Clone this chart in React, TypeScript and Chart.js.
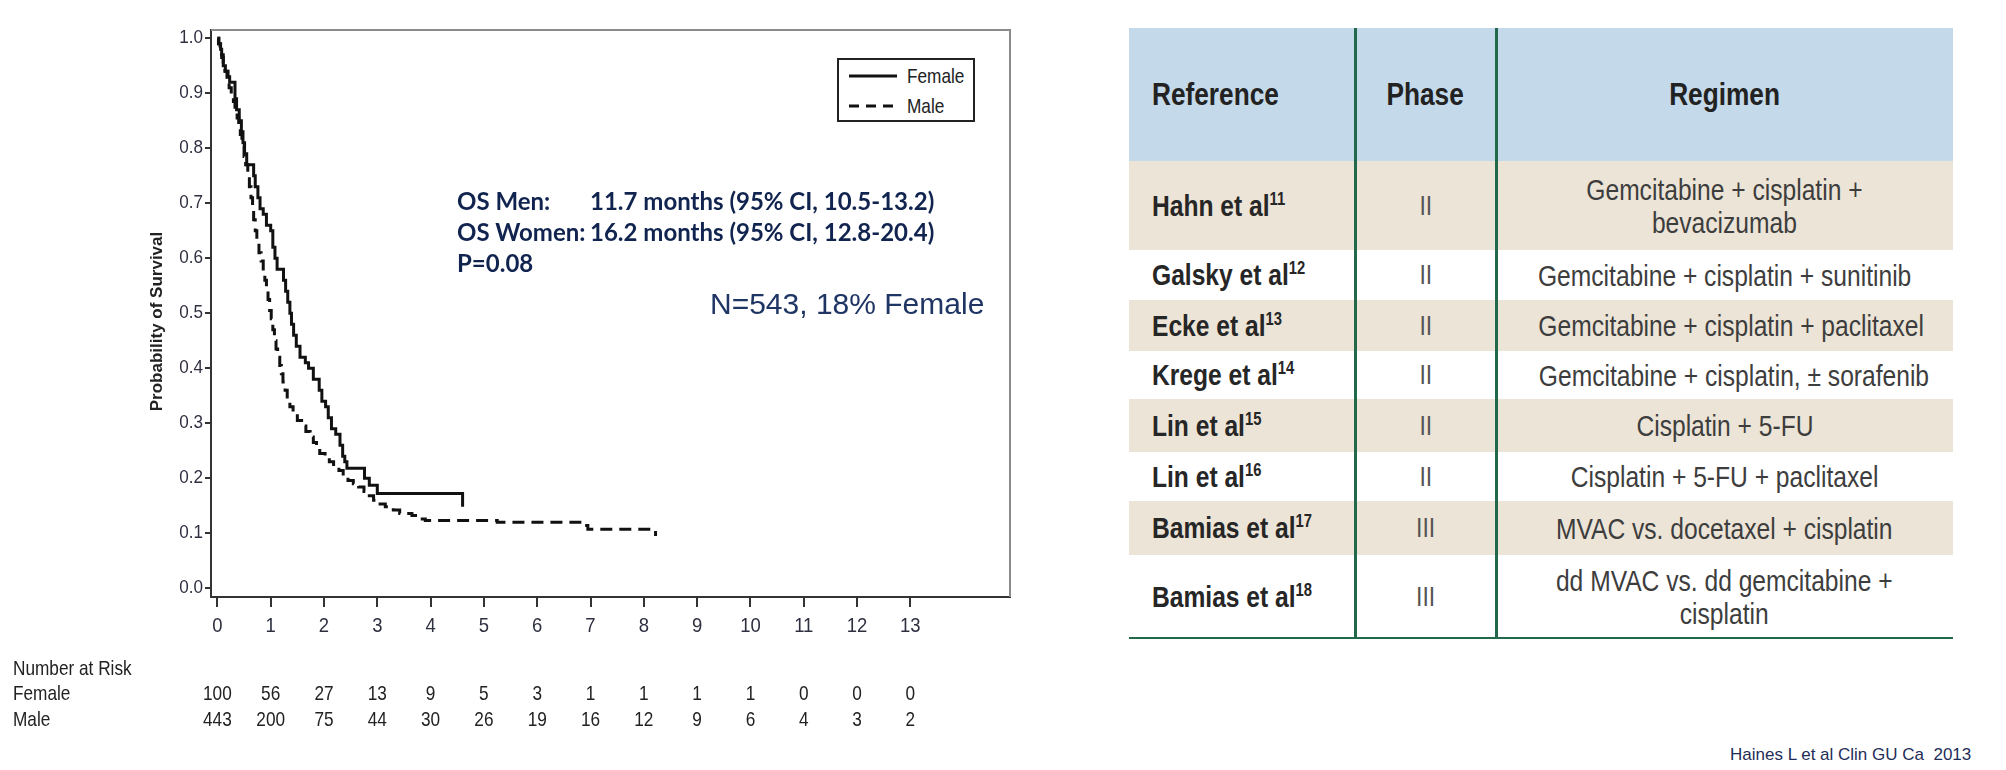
import React, { useEffect, useRef } from 'react';
import { Chart, registerables } from 'chart.js';

Chart.register(...registerables);

const SANS = '"Liberation Sans", Arial, sans-serif';
const CALIBRI = 'Lato, "Open Sans", sans-serif';
const SQUEEZE = 0.82;

// ---- Kaplan-Meier data (time in years, survival probability) ----
const femaleTimes = [0, 0.03, 0.06, 0.08, 0.11, 0.15, 0.2, 0.23, 0.33, 0.36, 0.41, 0.45, 0.48, 0.51, 0.55, 0.68, 0.71, 0.76, 0.8, 0.86, 0.92, 1.0, 1.04, 1.08, 1.12, 1.24, 1.28, 1.32, 1.36, 1.39, 1.43, 1.48, 1.55, 1.65, 1.71, 1.8, 1.91, 1.96, 2.03, 2.08, 2.14, 2.22, 2.3, 2.35, 2.39, 2.43, 2.76, 2.85, 3.0, 4.6];
const femaleSurvival = [1.0, 0.99, 0.98, 0.97, 0.95, 0.94, 0.93, 0.92, 0.89, 0.87, 0.85, 0.83, 0.81, 0.79, 0.77, 0.75, 0.73, 0.71, 0.69, 0.68, 0.66, 0.65, 0.62, 0.6, 0.58, 0.56, 0.54, 0.52, 0.5, 0.48, 0.46, 0.44, 0.42, 0.41, 0.4, 0.38, 0.36, 0.34, 0.33, 0.31, 0.29, 0.28, 0.26, 0.24, 0.23, 0.218, 0.2, 0.187, 0.172, 0.148];

const maleTimes = [0, 0.02, 0.05, 0.08, 0.11, 0.14, 0.18, 0.22, 0.26, 0.3, 0.33, 0.37, 0.4, 0.43, 0.46, 0.5, 0.53, 0.57, 0.6, 0.63, 0.66, 0.68, 0.71, 0.74, 0.78, 0.82, 0.86, 0.89, 0.92, 0.95, 0.98, 1.01, 1.04, 1.07, 1.1, 1.13, 1.17, 1.2, 1.23, 1.27, 1.31, 1.36, 1.42, 1.5, 1.58, 1.66, 1.74, 1.8, 1.86, 1.92, 2.02, 2.1, 2.18, 2.28, 2.36, 2.45, 2.55, 2.65, 2.75, 2.85, 2.93, 3.02, 3.15, 3.3, 3.42, 3.65, 3.8, 3.9, 5.25, 6.8, 6.95, 8.22];
const maleSurvival = [1, 0.99, 0.98, 0.965, 0.95, 0.94, 0.925, 0.91, 0.895, 0.885, 0.87, 0.855, 0.84, 0.825, 0.805, 0.785, 0.77, 0.75, 0.73, 0.71, 0.69, 0.67, 0.65, 0.63, 0.61, 0.595, 0.575, 0.56, 0.54, 0.525, 0.505, 0.49, 0.47, 0.45, 0.435, 0.42, 0.405, 0.39, 0.375, 0.36, 0.345, 0.33, 0.318, 0.305, 0.295, 0.285, 0.275, 0.265, 0.255, 0.245, 0.238, 0.23, 0.222, 0.214, 0.205, 0.196, 0.19, 0.184, 0.176, 0.168, 0.16, 0.153, 0.148, 0.142, 0.136, 0.132, 0.126, 0.123, 0.12, 0.114, 0.107, 0.095];

const xTickValues = [0, 1, 2, 3, 4, 5, 6, 7, 8, 9, 10, 11, 12, 13];
const yTickValues = [0, 0.1, 0.2, 0.3, 0.4, 0.5, 0.6, 0.7, 0.8, 0.9, 1.0];

const riskLabels = ['Number at Risk', 'Female', 'Male'];
const riskFemale = [100, 56, 27, 13, 9, 5, 3, 1, 1, 1, 1, 0, 0, 0];
const riskMale = [443, 200, 75, 44, 30, 26, 19, 16, 12, 9, 6, 4, 3, 2];

const seriesNames = ['Female', 'Male'];
const yAxisTitle = 'Probability of Survival';

const statLabels = ['OS Men:', 'OS Women:', 'P=0.08'];
const statValues = ['11.7 months (95% CI, 10.5-13.2)', '16.2 months (95% CI, 12.8-20.4)', ''];
const sampleNote = 'N=543, 18% Female';
const sourceNote = 'Haines L et al Clin GU Ca  2013';

// ---- Table data ----
const tableHeaders = ['Reference', 'Phase', 'Regimen'];
const tableRefs = ['Hahn et al', 'Galsky et al', 'Ecke et al', 'Krege et al', 'Lin et al', 'Lin et al', 'Bamias et al', 'Bamias et al'];
const tableRefNums = ['11', '12', '13', '14', '15', '16', '17', '18'];
const tablePhases = ['II', 'II', 'II', 'II', 'II', 'II', 'III', 'III'];
const tableRegimens = [
  ['Gemcitabine + cisplatin +', 'bevacizumab'],
  ['Gemcitabine + cisplatin + sunitinib'],
  ['Gemcitabine + cisplatin + paclitaxel'],
  ['Gemcitabine + cisplatin, \u00b1 sorafenib'],
  ['Cisplatin + 5-FU'],
  ['Cisplatin + 5-FU + paclitaxel'],
  ['MVAC vs. docetaxel + cisplatin'],
  ['dd MVAC vs. dd gemcitabine +', 'cisplatin'],
];

const toPoints = (ts: number[], ss: number[]) => ts.map((t, i) => ({ x: t, y: ss[i] }));

function narrowText(ctx: CanvasRenderingContext2D, text: string, x: number, y: number, align: CanvasTextAlign, squeeze = SQUEEZE) {
  ctx.save();
  ctx.translate(x, y);
  ctx.scale(squeeze, 1);
  ctx.textAlign = align;
  ctx.fillText(text, 0, 0);
  ctx.restore();
}

const Narrow = ({ children, origin = 'left' }: { children: React.ReactNode; origin?: string }) => (
  <span style={{ display: 'inline-block', transform: `scaleX(${SQUEEZE})`, transformOrigin: origin, whiteSpace: 'pre' }}>{children}</span>
);

export default function App() {
  const canvasRef = useRef<HTMLCanvasElement>(null);

  useEffect(() => {
    const canvas = canvasRef.current;
    if (!canvas) return;

    const extras = {
      id: 'kmExtras',
      afterDraw(chart: any) {
        const { ctx, chartArea: a, scales } = chart;
        const xs = scales.x;
        const ys = scales.y;
        ctx.save();
        ctx.strokeStyle = '#8a8a8a';
        ctx.lineWidth = 2;
        ctx.beginPath();
        ctx.moveTo(a.left, a.top);
        ctx.lineTo(a.right, a.top);
        ctx.lineTo(a.right, a.bottom);
        ctx.stroke();
        ctx.restore();

        // tick labels (condensed)
        ctx.save();
        ctx.fillStyle = '#2e3040';
        ctx.textBaseline = 'middle';
        ctx.font = `19px ${SANS}`;
        yTickValues.forEach((v) => narrowText(ctx, v.toFixed(1), a.left - 8, ys.getPixelForValue(v), 'right', 0.9));
        ctx.font = `21px ${SANS}`;
        xTickValues.forEach((v) => narrowText(ctx, String(v), xs.getPixelForValue(v), a.bottom + 29, 'center', 0.88));
        ctx.restore();

        ctx.save();
        ctx.fillStyle = '#222';
        ctx.font = `bold 17px ${SANS}`;
        ctx.textAlign = 'center';
        ctx.textBaseline = 'middle';
        ctx.translate(157, (a.top + a.bottom) / 2 + 8);
        ctx.rotate(-Math.PI / 2);
        ctx.fillText(yAxisTitle, 0, 0);
        ctx.restore();

        ctx.save();
        ctx.fillStyle = '#222';
        ctx.font = `21px ${SANS}`;
        ctx.textBaseline = 'middle';
        const rowY = [a.bottom + 72, a.bottom + 97, a.bottom + 123];
        riskLabels.forEach((l, i) => narrowText(ctx, l, 13, rowY[i], 'left'));
        xTickValues.forEach((v, i) => {
          const px = xs.getPixelForValue(v);
          narrowText(ctx, String(riskFemale[i]), px, rowY[1], 'center');
          narrowText(ctx, String(riskMale[i]), px, rowY[2], 'center');
        });
        ctx.restore();
      },
    };

    const chart = new Chart(canvas, {
      type: 'line',
      data: {
        datasets: [
          {
            label: seriesNames[0],
            data: toPoints(femaleTimes, femaleSurvival),
            borderColor: '#111',
            borderWidth: 3,
            stepped: 'before',
            pointRadius: 0,
            fill: false,
          },
          {
            label: seriesNames[1],
            data: toPoints(maleTimes, maleSurvival),
            borderColor: '#111',
            borderWidth: 3,
            borderDash: [12, 7],
            stepped: 'before',
            pointRadius: 0,
            fill: false,
          },
        ],
      },
      options: {
        animation: false,
        responsive: false,
        devicePixelRatio: 1,
        layout: { padding: { left: 0, top: 30, right: 30, bottom: 123 } },
        plugins: { legend: { display: false }, tooltip: { enabled: false } },
        scales: {
          x: {
            type: 'linear',
            min: -0.12,
            max: 14.87,
            afterFit: (s: any) => { s.height = 50; },
            afterBuildTicks: (s: any) => { s.ticks = xTickValues.map((v) => ({ value: v })); },
            border: { display: true, color: '#333', width: 2 },
            grid: { display: true, drawOnChartArea: false, drawTicks: true, tickLength: 10, color: '#333', lineWidth: 2 },
            ticks: { display: false, autoSkip: false },
          },
          y: {
            type: 'linear',
            min: -0.016,
            max: 1.015,
            afterFit: (s: any) => { s.width = 211; },
            afterBuildTicks: (s: any) => { s.ticks = yTickValues.map((v) => ({ value: v })); },
            border: { display: true, color: '#333', width: 2 },
            grid: { display: true, drawOnChartArea: false, drawTicks: true, tickLength: 6, color: '#333', lineWidth: 2 },
            ticks: { display: false, autoSkip: false },
          },
        },
      },
      plugins: [extras],
    });
    return () => chart.destroy();
  }, []);

  const headerH = 133;
  const rowHeights = [89, 50, 51, 48, 53, 49, 54, 83];
  const tableLeft = 1129;
  const tableTop = 28;
  const colW = [226, 141, 457];
  const green = '#22684a';
  const tableH = headerH + rowHeights.reduce((s, h) => s + h, 0);

  const statStyle: React.CSSProperties = {
    position: 'absolute',
    fontFamily: CALIBRI,
    fontWeight: 700,
    fontSize: 24,
    lineHeight: '30px',
    color: '#11244f',
    whiteSpace: 'pre',
  };
  const statTops = [186, 217, 248];

  return (
    <div style={{ position: 'absolute', left: 0, top: 0, width: 2006, height: 770, background: '#fff', overflow: 'hidden' }}>
      <canvas ref={canvasRef} width={1040} height={770} style={{ position: 'absolute', left: 0, top: 0, width: 1040, height: 770 }} />

      {/* legend */}
      <div style={{ position: 'absolute', left: 837, top: 58, width: 138, height: 64, border: '2px solid #222', boxSizing: 'border-box', background: '#fff' }}>
        <svg width={60} height={60} style={{ position: 'absolute', left: 0, top: 0 }}>
          <line x1={10} y1={16} x2={58} y2={16} stroke="#111" strokeWidth={3} />
          <line x1={10} y1={46} x2={58} y2={46} stroke="#111" strokeWidth={3} strokeDasharray="10 7" />
        </svg>
        {seriesNames.map((n, i) => (
          <div key={n} style={{ position: 'absolute', left: 68, top: 4 + i * 30, fontFamily: SANS, fontSize: 21, lineHeight: '24px', color: '#222' }}>
            <Narrow>{n}</Narrow>
          </div>
        ))}
      </div>

      {/* stats */}
      {statLabels.map((l, i) => (
        <div key={'l' + i} style={{ ...statStyle, left: 457, top: statTops[i] }}>{l}</div>
      ))}
      {statValues.map((v, i) => (
        <div key={'v' + i} style={{ ...statStyle, left: 590, top: statTops[i] }}>{v}</div>
      ))}

      <div style={{ position: 'absolute', left: 710, top: 287, fontFamily: SANS, fontSize: 30, lineHeight: '34px', color: '#1f3564', whiteSpace: 'pre' }}>{sampleNote}</div>

      {/* table */}
      <div style={{ position: 'absolute', left: tableLeft, top: tableTop, width: colW[0] + colW[1] + colW[2], height: tableH }}>
        <div style={{ display: 'flex', height: headerH, background: '#c4d9e9', alignItems: 'center', fontFamily: SANS, fontWeight: 700, fontSize: 32, color: '#222' }}>
          <div style={{ width: colW[0], paddingLeft: 23, boxSizing: 'border-box' }}><Narrow>{tableHeaders[0]}</Narrow></div>
          <div style={{ width: colW[1], textAlign: 'center' }}><Narrow origin="center">{tableHeaders[1]}</Narrow></div>
          <div style={{ width: colW[2], textAlign: 'center' }}><Narrow origin="center">{tableHeaders[2]}</Narrow></div>
        </div>
        {tableRefs.map((r, i) => (
          <div key={i} style={{ display: 'flex', height: rowHeights[i], alignItems: 'center', background: i % 2 === 0 ? '#ece4d7' : '#ffffff' }}>
            <div style={{ width: colW[0], paddingLeft: 23, boxSizing: 'border-box', fontFamily: SANS, fontWeight: 700, fontSize: 30, color: '#262626' }}>
              <Narrow>
                {r}
                <span style={{ fontSize: 18, position: 'relative', top: -11, lineHeight: 0 }}>{tableRefNums[i]}</span>
              </Narrow>
            </div>
            <div style={{ width: colW[1], textAlign: 'center', fontFamily: SANS, fontSize: 28, color: '#555' }}>
              <Narrow origin="center">{tablePhases[i]}</Narrow>
            </div>
            <div style={{ width: colW[2], textAlign: 'center', fontFamily: SANS, fontSize: 30, lineHeight: '33px', color: '#3d3d3d' }}>
              {tableRegimens[i].map((l, j) => (
                <div key={j}><Narrow origin="center">{l}</Narrow></div>
              ))}
            </div>
          </div>
        ))}
        <div style={{ position: 'absolute', left: colW[0] - 1, top: 0, width: 3, height: tableH, background: green }} />
        <div style={{ position: 'absolute', left: colW[0] + colW[1] - 1, top: 0, width: 3, height: tableH, background: green }} />
        <div style={{ position: 'absolute', left: 0, top: tableH - 1, width: colW[0] + colW[1] + colW[2], height: 2, background: green }} />
      </div>

      <div style={{ position: 'absolute', left: 1730, top: 745, fontFamily: SANS, fontSize: 17, lineHeight: '20px', color: '#1f2d58', whiteSpace: 'pre' }}>{sourceNote}</div>
    </div>
  );
}
